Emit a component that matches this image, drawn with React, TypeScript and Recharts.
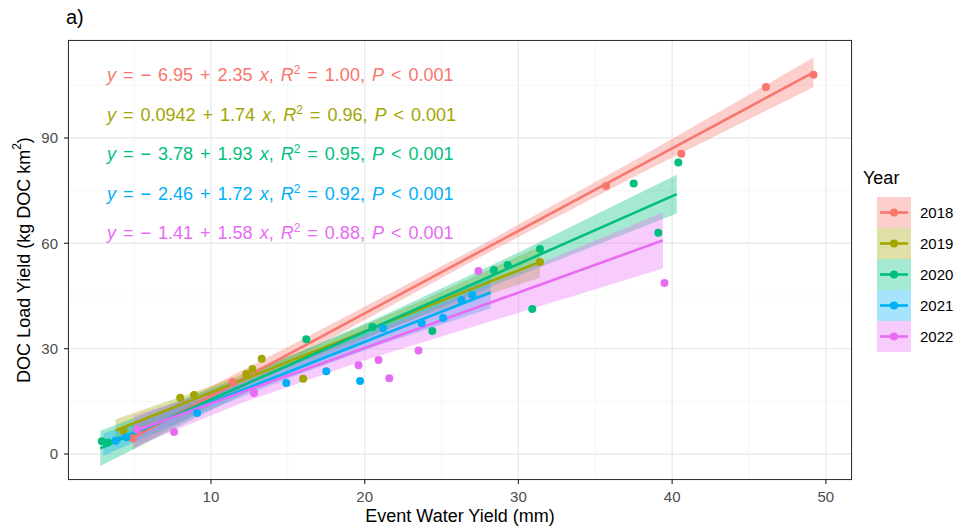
import React from "react";
import { ComposedChart, Scatter, Line, Area, XAxis, YAxis, CartesianGrid, Label } from "recharts";

const years = ["2018", "2019", "2020", "2021", "2022"];
const colors = ["#F8766D", "#A3A500", "#00BF7D", "#00B0F6", "#E76BF3"];

const pts2018 = [
  { x: 4.9, y: 4.5 }, { x: 11.4, y: 20.5 }, { x: 35.7, y: 76.3 }, { x: 40.6, y: 85.5 },
  { x: 46.1, y: 104.5 }, { x: 49.2, y: 108.0 },
];
const pts2019 = [
  { x: 4.3, y: 6.6 }, { x: 8.0, y: 16.0 }, { x: 8.9, y: 16.8 }, { x: 12.3, y: 22.8 }, { x: 12.7, y: 24.2 },
  { x: 13.3, y: 27.1 }, { x: 16.0, y: 21.4 }, { x: 31.4, y: 54.7 },
];
const pts2020 = [
  { x: 2.9, y: 3.6 }, { x: 3.3, y: 3.3 }, { x: 16.2, y: 32.7 }, { x: 20.5, y: 36.2 }, { x: 24.4, y: 35.0 },
  { x: 28.4, y: 52.4 }, { x: 29.3, y: 53.8 }, { x: 30.9, y: 41.3 }, { x: 31.4, y: 58.4 }, { x: 37.5, y: 77.0 },
  { x: 39.1, y: 63.0 }, { x: 40.4, y: 83.0 },
];
const pts2021 = [
  { x: 3.8, y: 3.8 }, { x: 4.5, y: 4.8 }, { x: 9.1, y: 11.7 }, { x: 14.9, y: 20.2 }, { x: 17.5, y: 23.6 },
  { x: 19.7, y: 20.8 }, { x: 21.2, y: 35.8 }, { x: 23.7, y: 37.3 }, { x: 25.1, y: 38.7 }, { x: 26.3, y: 43.8 },
  { x: 27.0, y: 45.3 },
];
const pts2022 = [
  { x: 5.2, y: 7.0 }, { x: 7.6, y: 6.3 }, { x: 12.8, y: 17.4 }, { x: 19.6, y: 25.3 }, { x: 20.9, y: 26.8 },
  { x: 21.6, y: 21.6 }, { x: 23.5, y: 29.5 }, { x: 27.4, y: 52.1 }, { x: 39.5, y: 48.7 },
];

// fitted lines with 95% bands
const fit2018 = [
  { x: 4.9, y: 4.57, band: [1.2, 7.9] }, { x: 15, y: 28.3, band: [26.1, 30.5] },
  { x: 27, y: 56.5, band: [54.9, 58.1] }, { x: 38, y: 82.35, band: [80.0, 84.7] },
  { x: 49.2, y: 108.67, band: [104.5, 112.9] },
];
const fit2019 = [
  { x: 3.8, y: 6.71, band: [3.5, 9.9] }, { x: 10, y: 17.5, band: [15.7, 19.3] },
  { x: 17, y: 29.7, band: [28.2, 31.2] }, { x: 24, y: 41.9, band: [39.6, 44.2] },
  { x: 31.4, y: 54.7, band: [50.2, 59.2] },
];
const fit2020 = [
  { x: 2.8, y: 1.62, band: [-3.4, 6.6] }, { x: 12, y: 19.38, band: [16.9, 21.9] },
  { x: 21, y: 36.75, band: [34.5, 39.0] }, { x: 30, y: 54.12, band: [50.8, 57.4] },
  { x: 40.3, y: 74.0, band: [68.5, 79.5] },
];
const fit2021 = [
  { x: 3.0, y: 2.7, band: [-0.5, 5.9] }, { x: 9, y: 13.0, band: [11.0, 15.0] },
  { x: 15, y: 23.3, band: [21.5, 25.1] }, { x: 21, y: 33.7, band: [31.1, 36.3] },
  { x: 28.2, y: 46.0, band: [41.5, 50.5] },
];
const fit2022 = [
  { x: 5.0, y: 6.49, band: [2.0, 11.0] }, { x: 12, y: 17.55, band: [14.5, 20.6] },
  { x: 20, y: 30.19, band: [26.7, 33.7] }, { x: 29, y: 44.41, band: [38.9, 49.9] },
  { x: 39.4, y: 60.84, band: [52.8, 68.8] },
];

const points = [pts2018, pts2019, pts2020, pts2021, pts2022];
const fits = [fit2018, fit2019, fit2020, fit2021, fit2022];

// equation labels
const eqIntercepts = ["\u2212 6.95", "0.0942", "\u2212 3.78", "\u2212 2.46", "\u2212 1.41"];
const eqSlopes = ["2.35", "1.74", "1.93", "1.72", "1.58"];
const eqR2 = ["1.00", "0.96", "0.95", "0.92", "0.88"];

const xTicks = [10, 20, 30, 40, 50];
const yTicks = [0, 30, 60, 90];
const xMinor = [5, 15, 25, 35, 45];
const yMinor = [15, 45, 75, 105];

const FONT = "'Liberation Sans', Arial, sans-serif";

const Dot = (props: any) => {
  const { cx, cy, fill } = props;
  if (cx == null || cy == null) return null;
  return <circle cx={cx} cy={cy} r={4} fill={fill} />;
};

const YTitle = (props: any) => {
  const { viewBox } = props;
  const cy = viewBox.y + viewBox.height / 2;
  return (
    <text x={24} y={cy} transform={`rotate(-90, 24, ${cy})`} textAnchor="middle" dominantBaseline="central" fontSize={18} fill="#000" fontFamily={FONT}>
      DOC Load Yield (kg DOC km
      <tspan dy={-7} fontSize={12}>2</tspan>
      <tspan dy={7}>)</tspan>
    </text>
  );
};

const XTitle = (props: any) => {
  const { viewBox } = props;
  const cx = viewBox.x + viewBox.width / 2;
  return (
    <text x={cx} y={522} textAnchor="middle" fontSize={18} fill="#000" fontFamily={FONT}>
      Event Water Yield (mm)
    </text>
  );
};

export default function App() {
  return (
    <div style={{ position: "absolute", left: 0, top: 0, width: 955, height: 528, background: "#fff", fontFamily: FONT }}>
      <ComposedChart width={955} height={528} margin={{ top: 40, right: 103, bottom: 0, left: 0 }}>
        <CartesianGrid stroke="#F2F2F2" strokeWidth={0.8} verticalValues={xMinor} horizontalValues={yMinor} />
        <CartesianGrid stroke="#EBEBEB" strokeWidth={1.4} />
        <XAxis
          type="number"
          dataKey="x"
          domain={[0.7, 51.7]}
          ticks={xTicks}
          allowDataOverflow
          height={48}
          tickSize={4}
          tickMargin={7}
          axisLine={false}
          tickLine={{ stroke: "#333333", strokeWidth: 1.2 }}
          tick={{ fill: "#4D4D4D", fontSize: 15, fontFamily: FONT }}
        >
          <Label content={<XTitle />} />
        </XAxis>
        <YAxis
          type="number"
          dataKey="y"
          domain={[-7.4, 117.9]}
          ticks={yTicks}
          allowDataOverflow
          width={68}
          tickSize={4}
          tickMargin={6}
          axisLine={false}
          tickLine={{ stroke: "#333333", strokeWidth: 1.2 }}
          tick={{ fill: "#4D4D4D", fontSize: 15, fontFamily: FONT }}
        >
          <Label content={<YTitle />} />
        </YAxis>
        {points.map((d, i) => (
          <Scatter key={"p" + years[i]} data={d} fill={colors[i]} shape={<Dot />} isAnimationActive={false} />
        ))}
        {fits.map((d, i) => (
          <Area
            key={"b" + years[i]}
            data={d}
            dataKey="band"
            type="linear"
            stroke="none"
            fill={colors[i]}
            fillOpacity={0.35}
            isAnimationActive={false}
            activeDot={false}
          />
        ))}
        {fits.map((d, i) => (
          <Line
            key={"l" + years[i]}
            data={d}
            dataKey="y"
            type="linear"
            stroke={colors[i]}
            strokeWidth={2.6}
            dot={false}
            activeDot={false}
            isAnimationActive={false}
          />
        ))}
      </ComposedChart>

      {/* panel border */}
      <div style={{ position: "absolute", left: 68, top: 40, width: 784, height: 440, boxSizing: "border-box", border: "1.3px solid #333333", pointerEvents: "none" }} />

      <div style={{ position: "absolute", left: 66, top: 6, fontSize: 20, color: "#000" }}>a)</div>

      {years.map((yr, i) => (
        <div key={"eq" + yr} style={{ position: "absolute", left: 107, top: 64 + i * 39.5, fontSize: 18, lineHeight: "22px", color: colors[i], whiteSpace: "nowrap", wordSpacing: 2 }}>
          <i>y</i> = {eqIntercepts[i]} + {eqSlopes[i]} <i>x</i>, <i>R</i>
          <sup style={{ fontSize: 12, verticalAlign: "7px", lineHeight: 0 }}>2</sup> = {eqR2[i]}, <i>P</i> &lt; 0.001
        </div>
      ))}

      {/* legend */}
      <div style={{ position: "absolute", left: 863, top: 168, fontSize: 18, color: "#000" }}>Year</div>
      {years.map((yr, i) => (
        <div key={"lg" + yr} style={{ position: "absolute", left: 877, top: 197 + i * 31, height: 31, display: "flex", alignItems: "center" }}>
          <svg width={34} height={31} style={{ display: "block" }}>
            <rect x={0} y={0} width={34} height={31} fill={colors[i]} fillOpacity={0.35} />
            <line x1={3} x2={31} y1={15.5} y2={15.5} stroke={colors[i]} strokeWidth={2.6} />
            <circle cx={17} cy={15.5} r={4} fill={colors[i]} />
          </svg>
          <span style={{ marginLeft: 9, fontSize: 15, color: "#000" }}>{yr}</span>
        </div>
      ))}
    </div>
  );
}
